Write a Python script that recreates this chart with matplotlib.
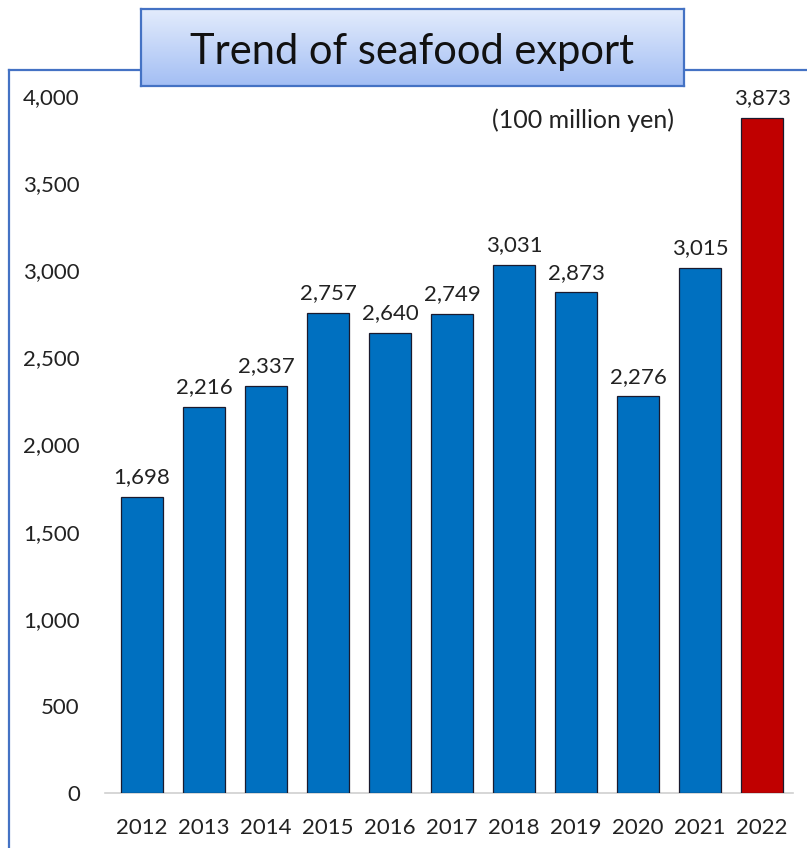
import matplotlib
matplotlib.use("Agg")
import matplotlib.pyplot as plt
import numpy as np
from matplotlib.lines import Line2D
from matplotlib.colors import LinearSegmentedColormap

years = ["2012", "2013", "2014", "2015", "2016", "2017", "2018", "2019", "2020", "2021", "2022"]
values = [1698, 2216, 2337, 2757, 2640, 2749, 3031, 2873, 2276, 3015, 3873]
colors = ["#0070C0"] * 10 + ["#C00000"]
title = "Trend of seafood export"
unit = "(100 million yen)"

plt.rcParams['font.family'] = ['Lato', 'DejaVu Sans']

W, H = 807, 848
fig = plt.figure(figsize=(W / 100, H / 100), dpi=100)

def fx(px):
    return px / W

def fy(py):
    return 1 - py / H

# frame lines (behind everything)
fig.add_artist(Line2D([fx(9), fx(9)], [0, fy(70)], color="#4472C4", lw=1.6,
                      transform=fig.transFigure, zorder=-5))
fig.add_artist(Line2D([fx(9), 1], [fy(70), fy(70)], color="#4472C4", lw=1.6,
                      transform=fig.transFigure, zorder=-5))

# axes placement
x0_px = 142 - 0.6 * 62
x1_px = 762 + 0.5 * 62
ax = fig.add_axes([fx(x0_px), fy(793), fx(x1_px - x0_px), (793 - 96) / H])
x = np.arange(len(years))
ax.bar(x, values, width=0.68, color=colors, edgecolor="#1a1a2e", linewidth=0.9, zorder=3)
ax.set_xlim(-0.6, len(years) - 0.5)
ax.set_ylim(0, 4000)
ax.set_yticks(np.arange(0, 4001, 500))
ax.set_yticklabels([f"{v:,}" for v in range(0, 4001, 500)])
ax.set_xticks(x)
ax.set_xticklabels(years)
for s in ["top", "right", "left"]:
    ax.spines[s].set_visible(False)
ax.spines["bottom"].set_color("#d0d0d0")
ax.spines["bottom"].set_linewidth(1.2)
ax.tick_params(axis="both", length=0, labelsize=16, colors="#222222")
ax.tick_params(axis="y", pad=18)
ax.tick_params(axis="x", pad=18)
ax.patch.set_alpha(0)

for xi, v in zip(x, values):
    ax.annotate(f"{v:,}", (xi, v), xytext=(0, 7), textcoords="offset points",
                ha="center", va="bottom", fontsize=16, color="#222222")

ax.text((583 - x0_px) / (x1_px - x0_px), (793 - 120) / (793 - 96), unit,
        transform=ax.transAxes, ha="center", va="center",
        fontsize=18, color="#222222")

# title box with gradient
bx0, bx1, by0, by1 = 141, 684, 9, 86
bax = fig.add_axes([fx(bx0), fy(by1), fx(bx1 - bx0), (by1 - by0) / H])
bax.set_zorder(5)
grad = np.linspace(0, 1, 256).reshape(-1, 1)
cmap = LinearSegmentedColormap.from_list("g", ["#E3ECFC", "#A3BEF4"])
bax.imshow(grad, aspect="auto", cmap=cmap, extent=[0, 1, 0, 1], origin="upper")
bax.set_xlim(0, 1)
bax.set_ylim(0, 1)
bax.set_xticks([])
bax.set_yticks([])
for s in bax.spines.values():
    s.set_color("#4472C4")
    s.set_linewidth(1.6)
bax.text(0.5, 0.44, title, ha="center", va="center", fontsize=30, color="#111111")

fig.savefig("out.png", dpi=100)
